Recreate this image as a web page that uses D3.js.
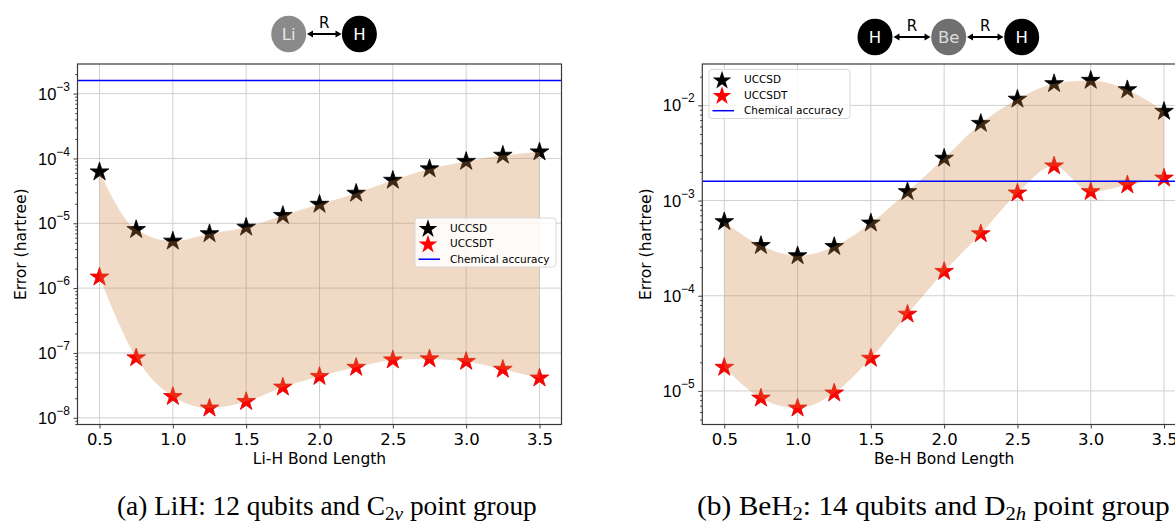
<!DOCTYPE html>
<html>
<head>
<meta charset="utf-8">
<script src="https://cdn.jsdelivr.net/npm/d3@7"></script>
<style>
  body { margin: 0; background: #fff; }
  svg { display: block; font-family: "DejaVu Sans", sans-serif; }
</style>
</head>
<body>
<div id="graph"></div>
<script>
// bond lengths (angstrom)
const bondLengths = [0.5, 0.75, 1.0, 1.25, 1.5, 1.75, 2.0, 2.25, 2.5, 2.75, 3.0, 3.25, 3.5]

// LiH errors (hartree)
const lihUCCSD = [6.2e-5, 8.0e-6, 5.3e-6, 6.9e-6, 8.7e-6, 1.32e-5, 1.96e-5, 2.9e-5, 4.6e-5, 6.9e-5, 9.0e-5, 1.12e-4, 1.26e-4]
const lihUCCSDT = [1.48e-6, 8.4e-8, 2.13e-8, 1.41e-8, 1.78e-8, 2.97e-8, 4.34e-8, 6.0e-8, 7.8e-8, 8.1e-8, 7.4e-8, 5.6e-8, 4.1e-8]

// BeH2 errors (hartree)
const behUCCSD = [6.0e-4, 3.37e-4, 2.63e-4, 3.29e-4, 5.8e-4, 1.24e-3, 2.78e-3, 6.46e-3, 1.16e-2, 1.69e-2, 1.83e-2, 1.46e-2, 8.65e-3]
const behUCCSDT = [1.77e-5, 8.4e-6, 6.6e-6, 9.5e-6, 2.2e-5, 6.4e-5, 1.8e-4, 4.48e-4, 1.2e-3, 2.31e-3, 1.24e-3, 1.46e-3, 1.72e-3]

const chemAccuracy = 1.6e-3

const xTicks = [0.5, 1.0, 1.5, 2.0, 2.5, 3.0, 3.5]
const lihExponents = [-8, -7, -6, -5, -4, -3]
const behExponents = [-5, -4, -3, -2]
const legendNames = ["UCCSD", "UCCSDT", "Chemical accuracy"]

const W = 1175, H = 522
const svg = d3.select("#graph").append("svg")
    .attr("width", W).attr("height", H)

function starPath(R) {
    const r = R * 0.381966
    const pts = []
    for (let i = 0; i < 10; i++) {
        const a = -Math.PI / 2 + i * Math.PI / 5
        const rr = i % 2 ? r : R
        pts.push([rr * Math.cos(a), rr * Math.sin(a)])
    }
    return "M" + pts.map(p => p.join(",")).join("L") + "Z"
}
const STAR = starPath(9.8)

function drawPanel(o) {
    const g = svg.append("g")
    const top = 64, bottom = 424.5

    const x = d3.scaleLinear().domain([0.35, 3.65]).range([o.left, o.right])

    // log axis with matplotlib-like 5% margins
    const all = o.upper.concat(o.lower, [chemAccuracy]).map(Math.log10)
    const lo = d3.min(all), hi = d3.max(all), pad = (hi - lo) * 0.05
    const y = d3.scaleLog().domain([10 ** (lo - pad), 10 ** (hi + pad)]).range([bottom, top])

    const clipId = "clip" + o.id
    g.append("clipPath").attr("id", clipId).append("rect")
        .attr("x", o.left).attr("y", top).attr("width", o.right - o.left).attr("height", bottom - top)

    // grid
    g.append("g").selectAll("line").data(xTicks).join("line")
        .attr("x1", d => x(d)).attr("x2", d => x(d)).attr("y1", top).attr("y2", bottom)
        .attr("stroke", "#d0d0d0").attr("stroke-width", 1)
    g.append("g").selectAll("line").data(o.exps).join("line")
        .attr("x1", o.left).attr("x2", o.right).attr("y1", d => y(10 ** d)).attr("y2", d => y(10 ** d))
        .attr("stroke", "#d0d0d0").attr("stroke-width", 1)

    const pts = bondLengths.map((b, i) => ({ x: b, up: o.upper[i], low: o.lower[i] }))
    const plot = g.append("g").attr("clip-path", `url(#${clipId})`)

    // stars
    plot.append("g").selectAll("path").data(pts).join("path")
        .attr("d", STAR).attr("transform", d => `translate(${x(d.x)},${y(d.up)})`)
        .attr("fill", "black").attr("stroke", "black").attr("stroke-width", 0.8)
    plot.append("g").selectAll("path").data(pts).join("path")
        .attr("d", STAR).attr("transform", d => `translate(${x(d.x)},${y(d.low)})`)
        .attr("fill", "red").attr("stroke", "#e00000").attr("stroke-width", 0.8)

    // band between methods
    const area = d3.area()
        .x(d => x(d.x)).y0(d => y(d.low)).y1(d => y(d.up))
        .curve(d3.curveMonotoneX)
    plot.append("path").datum(pts).attr("d", area)
        .attr("fill", "peru").attr("fill-opacity", 0.3)

    // chemical accuracy
    plot.append("line")
        .attr("x1", o.left).attr("x2", o.right)
        .attr("y1", y(chemAccuracy)).attr("y2", y(chemAccuracy))
        .attr("stroke", "#0000ff").attr("stroke-width", 1.5)

    // frame
    g.append("rect").attr("x", o.left).attr("y", top)
        .attr("width", o.right - o.left).attr("height", bottom - top)
        .attr("fill", "none").attr("stroke", "#3a3a3a").attr("stroke-width", 1.2)

    // x axis
    const xa = g.append("g").attr("transform", `translate(0,${bottom})`)
        .call(d3.axisBottom(x).tickValues(xTicks).tickFormat(d3.format(".1f")).tickSize(4).tickPadding(5))
    xa.select(".domain").remove()
    xa.selectAll("line").attr("stroke", "#3a3a3a")
    xa.selectAll("text").attr("font-size", 16.5).attr("font-family", "DejaVu Sans").attr("fill", "#000")

    // y axis: minor ticks
    const [d0, d1] = y.domain()
    const minors = []
    for (let e = Math.floor(Math.log10(d0)); e <= Math.ceil(Math.log10(d1)); e++)
        for (let m = 2; m < 10; m++) {
            const v = m * 10 ** e
            if (v >= d0 && v <= d1) minors.push(v)
        }
    const ym = g.append("g").attr("transform", `translate(${o.left},0)`)
        .call(d3.axisLeft(y).tickValues(minors).tickFormat("").tickSize(2.2))
    ym.select(".domain").remove()
    ym.selectAll("line").attr("stroke", "#3a3a3a")

    const ya = g.append("g").attr("transform", `translate(${o.left},0)`)
        .call(d3.axisLeft(y).tickValues(o.exps.map(e => 10 ** e)).tickFormat("").tickSize(4))
    ya.select(".domain").remove()
    ya.selectAll("line").attr("stroke", "#3a3a3a")
    const labels = ya.selectAll(".tick").append("text")
        .attr("x", -7.5).attr("dy", "0.34em").attr("text-anchor", "end")
        .attr("fill", "#000").attr("font-size", 16.5)
    labels.append("tspan").text("10")
    labels.append("tspan").attr("font-size", 12).attr("dy", "-0.75em")
        .text(d => "\u2212" + Math.round(-Math.log10(d)))

    // axis titles
    g.append("text").attr("x", (o.left + o.right) / 2).attr("y", 464)
        .attr("text-anchor", "middle").attr("font-size", 15.5).text(o.xlabel)
    g.append("text").attr("transform", `translate(${o.left - 57},${(top + bottom) / 2}) rotate(-90)`)
        .attr("text-anchor", "middle").attr("dy", "0.35em").attr("font-size", 15.5).text("Error (hartree)")

    // legend
    const lg = g.append("g").attr("transform", `translate(${o.legend[0]},${o.legend[1]})`)
    lg.append("rect").attr("width", 141).attr("height", 49).attr("rx", 3)
        .attr("fill", "white").attr("fill-opacity", 0.85).attr("stroke", "#d8d8d8")
    const rows = lg.selectAll("g").data(legendNames).join("g")
        .attr("transform", (d, i) => `translate(0,${10 + i * 15.6})`)
    rows.filter((d, i) => i < 2).append("path").attr("d", starPath(9.8))
        .attr("transform", "translate(13,1)")
        .attr("fill", (d, i) => i ? "red" : "black")
    rows.filter((d, i) => i === 2).append("line")
        .attr("x1", 3.5).attr("x2", 25).attr("stroke", "#0000ff").attr("stroke-width", 1.5)
    rows.append("text").attr("x", 35).attr("dy", "0.35em").attr("font-size", 10.5).text(d => d)
}

drawPanel({
    id: "a", left: 77.5, right: 561.5, upper: lihUCCSD, lower: lihUCCSDT,
    exps: lihExponents, xlabel: "Li-H Bond Length", legend: [415, 218]
})
drawPanel({
    id: "b", left: 702.3, right: 1186, upper: behUCCSD, lower: behUCCSDT,
    exps: behExponents, xlabel: "Be-H Bond Length", legend: [709, 69.5]
})

// molecule sketches
function atom(cx, cy, fill, txt, txtFill) {
    svg.append("ellipse").attr("cx", cx).attr("cy", cy).attr("rx", 17.5).attr("ry", 18.3).attr("fill", fill)
    svg.append("text").attr("x", cx).attr("y", cy).attr("dy", "0.36em").attr("text-anchor", "middle")
        .attr("font-size", 16.5).attr("fill", txtFill).text(txt)
}
function bond(x1, x2, cy) {
    const h = 3.5
    svg.append("line").attr("x1", x1 + 3).attr("x2", x2 - 3).attr("y1", cy).attr("y2", cy)
        .attr("stroke", "black").attr("stroke-width", 2)
    svg.append("path").attr("d", `M${x1},${cy}L${x1 + 6},${cy - h}L${x1 + 6},${cy + h}Z`).attr("fill", "black")
    svg.append("path").attr("d", `M${x2},${cy}L${x2 - 6},${cy - h}L${x2 - 6},${cy + h}Z`).attr("fill", "black")
    svg.append("text").attr("x", (x1 + x2) / 2).attr("y", cy - 6).attr("text-anchor", "middle")
        .attr("font-size", 15).text("R")
}
atom(288.7, 34, "#8a8a8a", "Li", "#e6e6e6")
atom(359.4, 34, "black", "H", "white")
bond(307, 341.5, 34)

atom(875, 37, "black", "H", "white")
atom(948.7, 37, "#707070", "Be", "#dcdcdc")
atom(1021.7, 37, "black", "H", "white")
bond(893.5, 930.5, 37)
bond(967, 1003.5, 37)

// captions: fitted to the width they take in the figure
function caption(x0, width, parts) {
    const g = svg.append("g").attr("font-family", "'Liberation Serif', 'Times New Roman', serif")
        .attr("font-size", 27).attr("fill", "#000")
    const t = g.append("text").attr("x", 0).attr("y", 0)
    parts.forEach(p => {
        const s = t.append("tspan").text(p.t)
        if (p.sub) s.attr("font-size", 19)
        if (p.it) s.attr("font-style", "italic")
        if (p.dy) s.attr("dy", p.dy)
    })
    const w = t.node().getComputedTextLength()
    g.attr("transform", `translate(${x0},515) scale(${width / w},1)`)
}
caption(117, 420, [
    { t: "(a) LiH: 12 qubits and C" }, { t: "2", sub: 1, dy: 5 }, { t: "v", sub: 1, it: 1 },
    { t: " point group", dy: -5 }
])
caption(697, 473, [
    { t: "(b) BeH" }, { t: "2", sub: 1, dy: 5 }, { t: ": 14 qubits and D", dy: -5 },
    { t: "2", sub: 1, dy: 5 }, { t: "h", sub: 1, it: 1 }, { t: " point group", dy: -5 }
])
</script>
</body>
</html>
